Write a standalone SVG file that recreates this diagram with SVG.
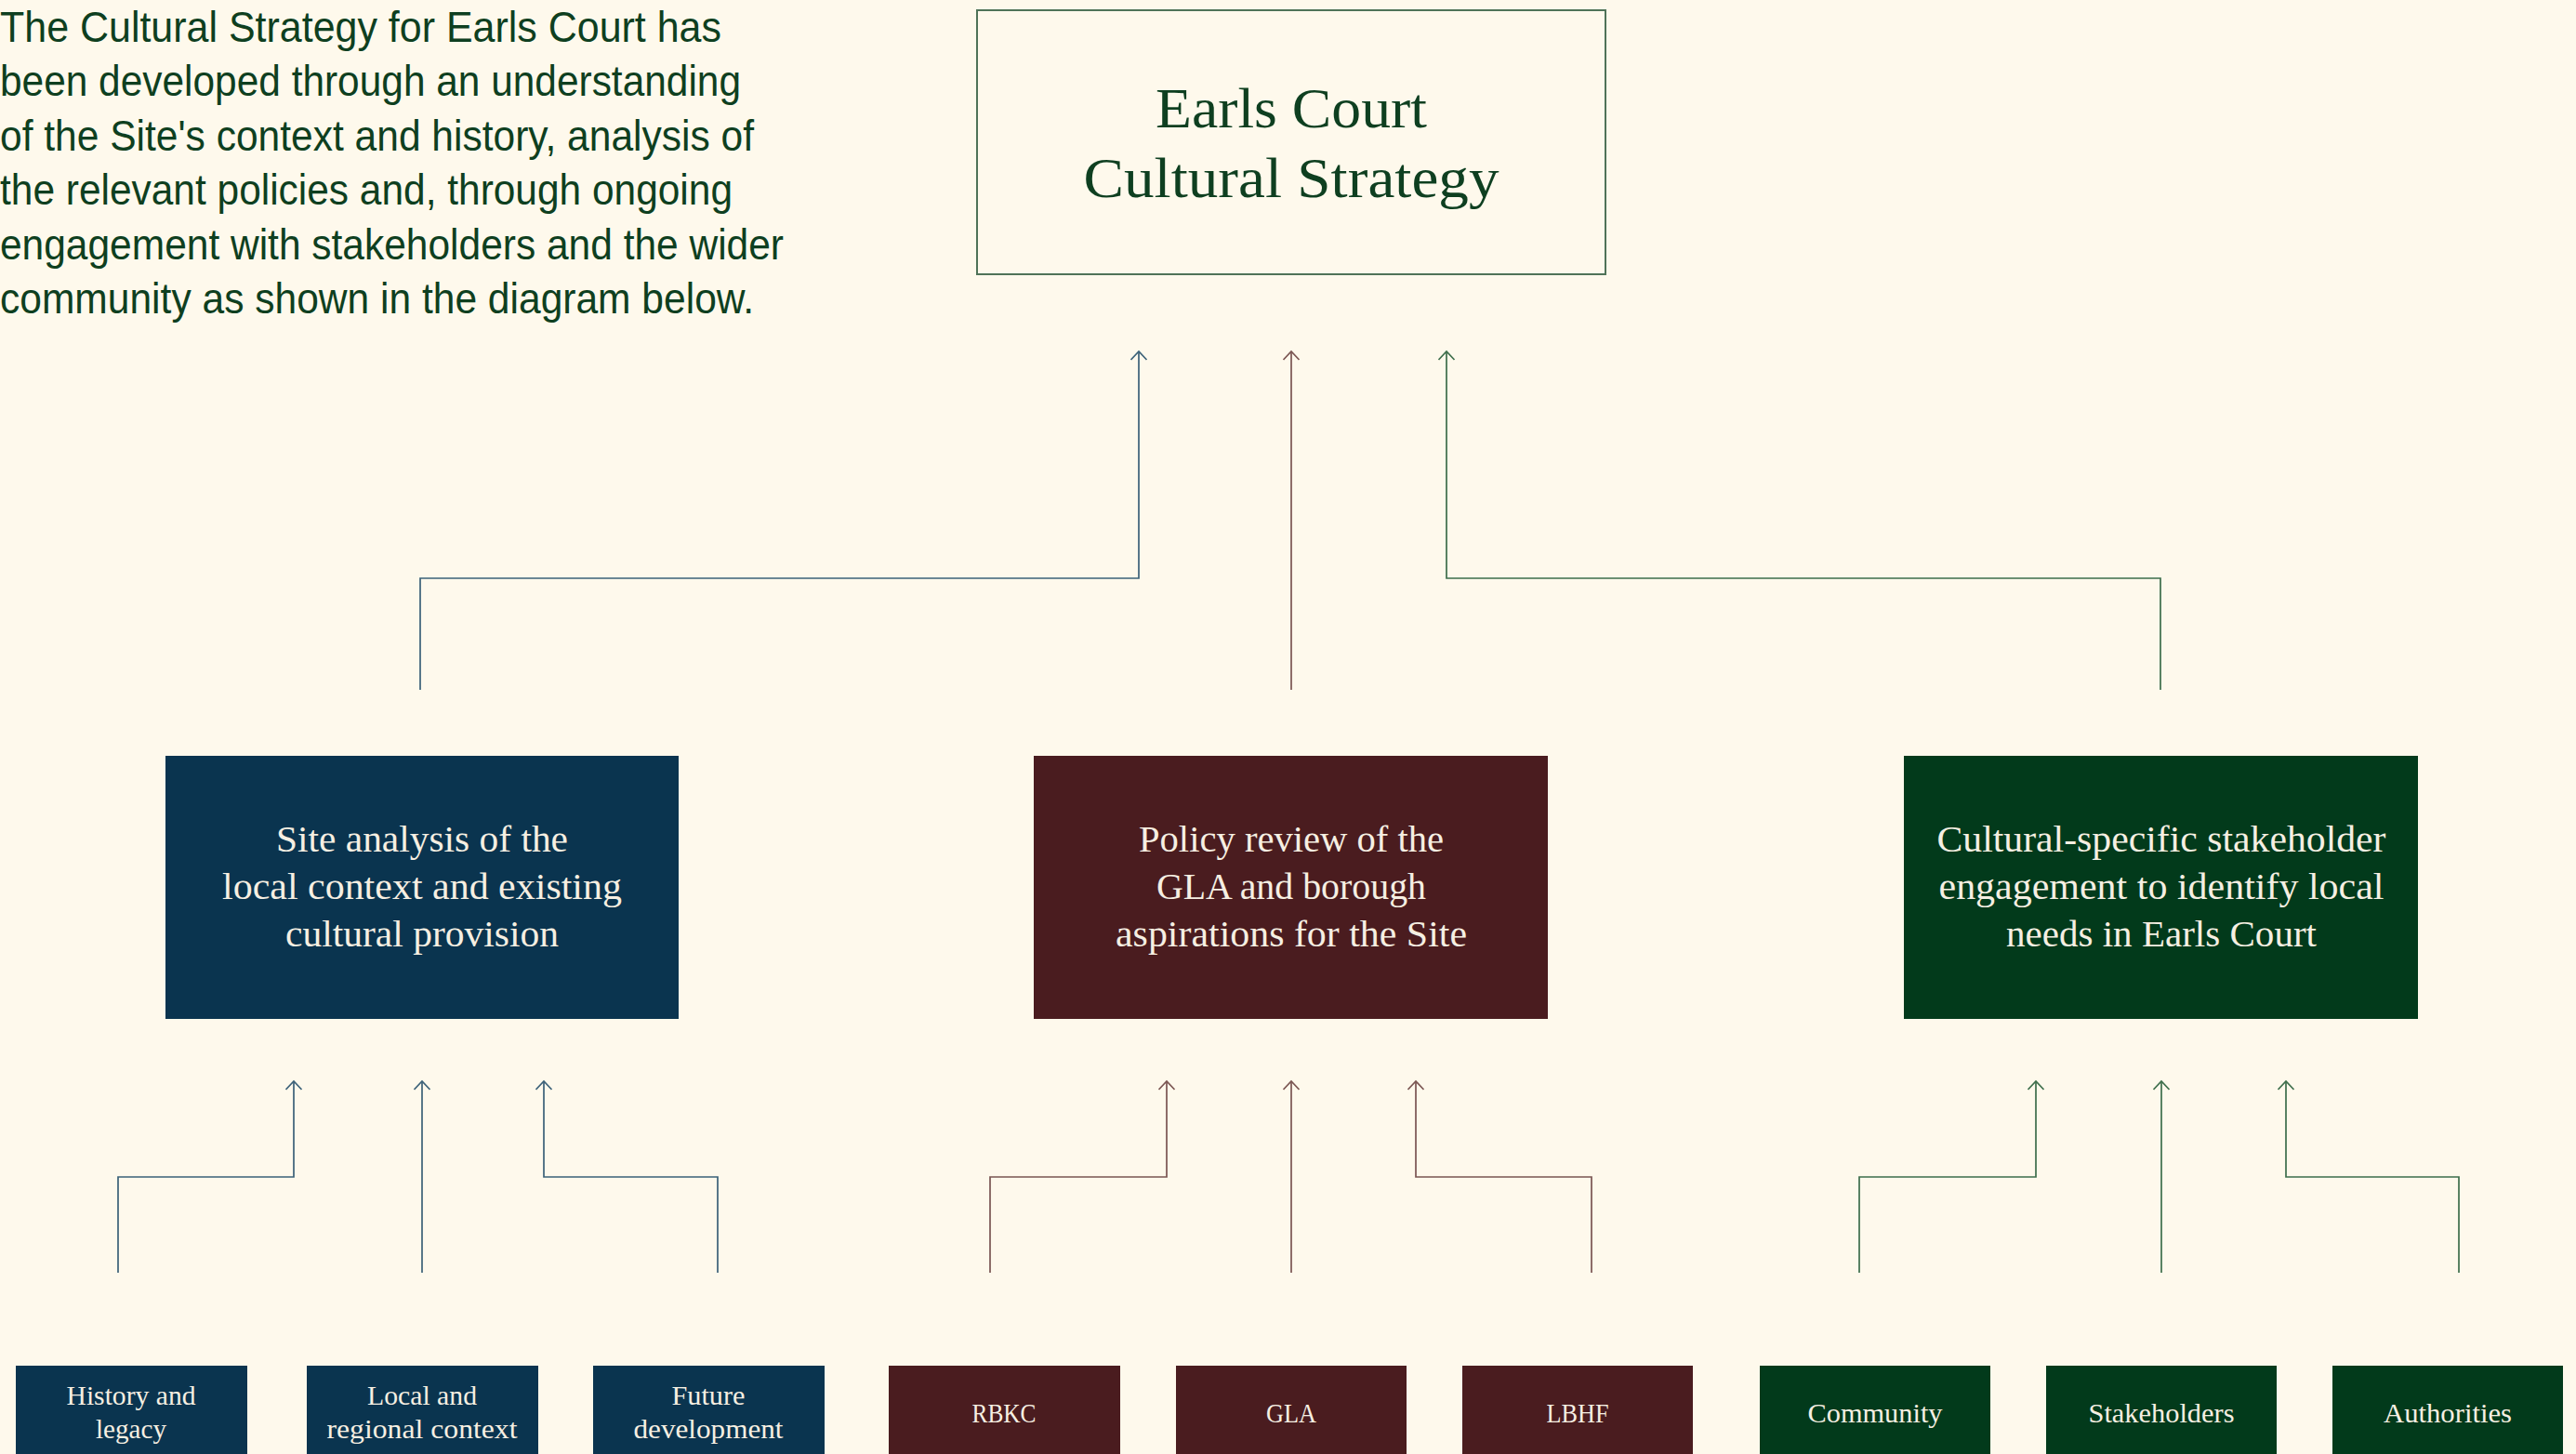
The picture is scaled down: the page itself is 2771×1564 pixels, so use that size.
<svg xmlns="http://www.w3.org/2000/svg" width="2771" height="1564" viewBox="0 0 2771 1564">
<style>
.bg{fill:#fef9ec}
.intro{font-family:"Liberation Sans",Arial,sans-serif;font-size:46px;fill:#0e3f20}
.title{font-family:"Liberation Serif","Times New Roman",serif;font-size:62px;fill:#0e3f20;text-anchor:middle}
.mid{font-family:"Liberation Serif","Times New Roman",serif;font-size:41px;fill:#f6efe2;text-anchor:middle}
.lab{font-family:"Liberation Serif","Times New Roman",serif;font-size:30px;fill:#f6efe2;text-anchor:middle}
.blue{fill:#0a344f}
.maroon{fill:#4a1c1f}
.green{fill:#023a1b}
.ln{fill:none;stroke-width:1.7}
.lb{stroke:#3b6178}
.lm{stroke:#7a5552}
.lg{stroke:#3d6e4b}
</style>
<defs>
<marker id="ab" markerUnits="userSpaceOnUse" viewBox="-10 -10 12 20" markerWidth="12" markerHeight="20" refX="0" refY="0" orient="auto"><path d="M-9,-8.5 L0,0 L-9,8.5" fill="none" stroke="#3b6178" stroke-width="1.7"/></marker>
<marker id="am" markerUnits="userSpaceOnUse" viewBox="-10 -10 12 20" markerWidth="12" markerHeight="20" refX="0" refY="0" orient="auto"><path d="M-9,-8.5 L0,0 L-9,8.5" fill="none" stroke="#7a5552" stroke-width="1.7"/></marker>
<marker id="ag" markerUnits="userSpaceOnUse" viewBox="-10 -10 12 20" markerWidth="12" markerHeight="20" refX="0" refY="0" orient="auto"><path d="M-9,-8.5 L0,0 L-9,8.5" fill="none" stroke="#3d6e4b" stroke-width="1.7"/></marker>
</defs>
<rect class="bg" x="0" y="0" width="2771" height="1564"/>

<g id="intro">
<text class="intro" x="0" y="45" textLength="776" lengthAdjust="spacingAndGlyphs">The Cultural Strategy for Earls Court has</text>
<text class="intro" x="0" y="103" textLength="797" lengthAdjust="spacingAndGlyphs">been developed through an understanding</text>
<text class="intro" x="0" y="162" textLength="811" lengthAdjust="spacingAndGlyphs">of the Site's context and history, analysis of</text>
<text class="intro" x="0" y="220" textLength="788" lengthAdjust="spacingAndGlyphs">the relevant policies and, through ongoing</text>
<text class="intro" x="0" y="279" textLength="843" lengthAdjust="spacingAndGlyphs">engagement with stakeholders and the wider</text>
<text class="intro" x="0" y="337" textLength="811" lengthAdjust="spacingAndGlyphs">community as shown in the diagram below.</text>
</g>

<g id="connectors">
<polyline class="ln lb" points="452,742 452,622 1225,622 1225,378" marker-end="url(#ab)"/>
<polyline class="ln lm" points="1389,742 1389,378" marker-end="url(#am)"/>
<polyline class="ln lg" points="2324,742 2324,622 1556,622 1556,378" marker-end="url(#ag)"/>

<polyline class="ln lb" points="127,1369 127,1266 316,1266 316,1163" marker-end="url(#ab)"/>
<polyline class="ln lb" points="454,1369 454,1163" marker-end="url(#ab)"/>
<polyline class="ln lb" points="772,1369 772,1266 585,1266 585,1163" marker-end="url(#ab)"/>

<polyline class="ln lm" points="1065,1369 1065,1266 1255,1266 1255,1163" marker-end="url(#am)"/>
<polyline class="ln lm" points="1389,1369 1389,1163" marker-end="url(#am)"/>
<polyline class="ln lm" points="1712,1369 1712,1266 1523,1266 1523,1163" marker-end="url(#am)"/>

<polyline class="ln lg" points="2000,1369 2000,1266 2190,1266 2190,1163" marker-end="url(#ag)"/>
<polyline class="ln lg" points="2325,1369 2325,1163" marker-end="url(#ag)"/>
<polyline class="ln lg" points="2645,1369 2645,1266 2459,1266 2459,1163" marker-end="url(#ag)"/>
</g>

<g id="strategy">
<rect x="1051" y="11" width="676" height="284" fill="none" stroke="#4f7358" stroke-width="2"/>
<text class="title" x="1389" y="137" textLength="292" lengthAdjust="spacingAndGlyphs">Earls Court</text>
<text class="title" x="1389" y="212" textLength="447" lengthAdjust="spacingAndGlyphs">Cultural Strategy</text>
</g>

<g id="site-analysis">
<rect class="blue" x="178" y="813" width="552" height="283"/>
<text class="mid" x="454" y="916" textLength="314" lengthAdjust="spacingAndGlyphs">Site analysis of the</text>
<text class="mid" x="454" y="967" textLength="430" lengthAdjust="spacingAndGlyphs">local context and existing</text>
<text class="mid" x="454" y="1018" textLength="294" lengthAdjust="spacingAndGlyphs">cultural provision</text>
</g>

<g id="policy-review">
<rect class="maroon" x="1112" y="813" width="553" height="283"/>
<text class="mid" x="1389" y="916" textLength="328" lengthAdjust="spacingAndGlyphs">Policy review of the</text>
<text class="mid" x="1389" y="967" textLength="290" lengthAdjust="spacingAndGlyphs">GLA and borough</text>
<text class="mid" x="1389" y="1018" textLength="378" lengthAdjust="spacingAndGlyphs">aspirations for the Site</text>
</g>

<g id="stakeholder-engagement">
<rect class="green" x="2048" y="813" width="553" height="283"/>
<text class="mid" x="2325" y="916" textLength="483" lengthAdjust="spacingAndGlyphs">Cultural-specific stakeholder</text>
<text class="mid" x="2325" y="967" textLength="479" lengthAdjust="spacingAndGlyphs">engagement to identify local</text>
<text class="mid" x="2325" y="1018" textLength="334" lengthAdjust="spacingAndGlyphs">needs in Earls Court</text>
</g>

<g id="history-legacy">
<rect class="blue" x="17" y="1469" width="249" height="100"/>
<text class="lab" x="141" y="1511" textLength="139" lengthAdjust="spacingAndGlyphs">History and</text>
<text class="lab" x="141" y="1547" textLength="76" lengthAdjust="spacingAndGlyphs">legacy</text>
</g>
<g id="local-regional">
<rect class="blue" x="330" y="1469" width="249" height="100"/>
<text class="lab" x="454" y="1511" textLength="118" lengthAdjust="spacingAndGlyphs">Local and</text>
<text class="lab" x="454" y="1547" textLength="205" lengthAdjust="spacingAndGlyphs">regional context</text>
</g>
<g id="future-development">
<rect class="blue" x="638" y="1469" width="249" height="100"/>
<text class="lab" x="762" y="1511" textLength="79" lengthAdjust="spacingAndGlyphs">Future</text>
<text class="lab" x="762" y="1547" textLength="161" lengthAdjust="spacingAndGlyphs">development</text>
</g>

<g id="rbkc">
<rect class="maroon" x="956" y="1469" width="249" height="100"/>
<text class="lab" x="1080" y="1530" textLength="69" lengthAdjust="spacingAndGlyphs">RBKC</text>
</g>
<g id="gla">
<rect class="maroon" x="1265" y="1469" width="248" height="100"/>
<text class="lab" x="1389" y="1530" textLength="54" lengthAdjust="spacingAndGlyphs">GLA</text>
</g>
<g id="lbhf">
<rect class="maroon" x="1573" y="1469" width="248" height="100"/>
<text class="lab" x="1697" y="1530" textLength="67" lengthAdjust="spacingAndGlyphs">LBHF</text>
</g>

<g id="community">
<rect class="green" x="1893" y="1469" width="248" height="100"/>
<text class="lab" x="2017" y="1530" textLength="145" lengthAdjust="spacingAndGlyphs">Community</text>
</g>
<g id="stakeholders">
<rect class="green" x="2201" y="1469" width="248" height="100"/>
<text class="lab" x="2325" y="1530" textLength="157" lengthAdjust="spacingAndGlyphs">Stakeholders</text>
</g>
<g id="authorities">
<rect class="green" x="2509" y="1469" width="248" height="100"/>
<text class="lab" x="2633" y="1530" textLength="138" lengthAdjust="spacingAndGlyphs">Authorities</text>
</g>
</svg>
